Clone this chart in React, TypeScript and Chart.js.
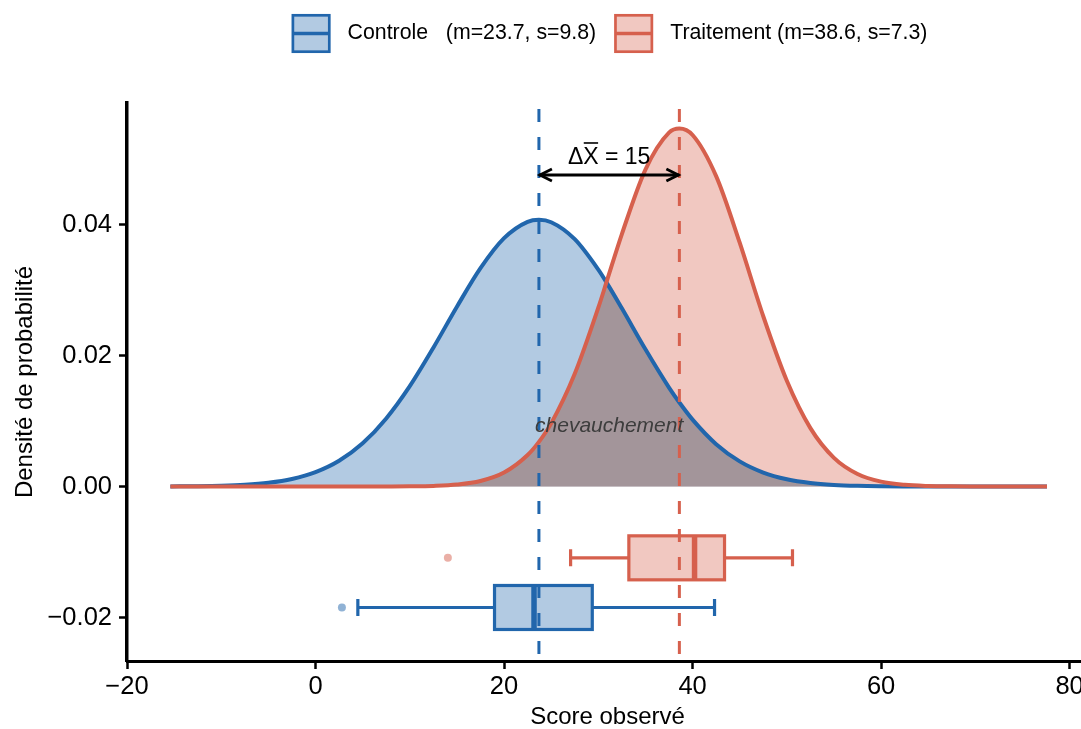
import React, { useEffect, useRef } from 'react';
import { Chart, registerables } from 'chart.js';

Chart.register(...registerables);

const FONT = '"Liberation Sans", Arial, Helvetica, sans-serif';

// ---- groups ----
const groupNames = ['Controle', 'Traitement'];
const groupMeans = [23.7, 38.6];
const groupSds = [9.8, 7.3];
const lineColors = ['#2166AC', '#D6604D'];
const fillColors = ['rgba(33,102,172,0.35)', 'rgba(214,96,77,0.35)'];
const outlierColors = ['rgba(33,102,172,0.5)', 'rgba(214,96,77,0.5)'];
const overlapFill = 'rgba(127,127,127,0.42)';

// ---- density curves ----
const scoreGrid = [
  -15.4, -12.5, -10, -7.5, -5, -2.5, 0, 2.5, 5, 7.5, 10, 12.5, 15, 17.5, 20, 22.5, 23.7, 25,
  27.5, 30, 30.85, 32.5, 35, 37.5, 38.6, 40, 42.5, 45, 47.5, 50, 52.5, 55, 57.5, 60, 62.5, 65,
  67.5, 70, 72.5, 75, 77.6,
];
const densityControle = [
  0.0000137, 0.0000443, 0.00011, 0.000256, 0.000559, 0.001141, 0.002187, 0.003922, 0.00659,
  0.01039, 0.01532, 0.02119, 0.02745, 0.03333, 0.03791, 0.04041, 0.04071, 0.04035, 0.03776,
  0.03311, 0.0312, 0.0272, 0.02094, 0.0151, 0.01282, 0.01021, 0.006465, 0.003836, 0.002132,
  0.001111, 0.000543, 0.000248, 0.000106, 0.0000427, 0.000016, 0.0000057, 0.0000018, 0.0000005,
  0.0000001, 0, 0,
];
const densityTraitement = [
  0, 0, 0, 0, 0, 0, 0, 0.0000003, 0.0000014, 0.0000063, 0.0000254, 0.0000915, 0.000294, 0.00084,
  0.002127, 0.004803, 0.00681, 0.009636, 0.0172, 0.0273, 0.03111, 0.03854, 0.04839, 0.05403,
  0.05465, 0.05366, 0.04738, 0.03722, 0.02599, 0.01614, 0.008919, 0.004381, 0.001914, 0.000744,
  0.000257, 0.000079, 0.0000216, 0.0000053, 0.0000012, 0.0000002, 0,
];

// ---- boxplots ----
const boxY = [-0.01847, -0.01089];
const whiskerLow = [4.49, 27.06];
const quartile1 = [18.99, 33.24];
const medians = [23.18, 40.21];
const quartile3 = [29.36, 43.39];
const whiskerHigh = [42.33, 50.6];
const outlierScores = [2.8, 14.04];

// ---- annotations ----
const meanDiff = 15;
const arrowY = 0.04756;
const overlapLabel = 'chevauchement';
const overlapLabelY = 0.0092;

const xTitle = 'Score observé';
const yTitle = 'Densité de probabilité';

const fmtNum = (v: number, d: number) => {
  const s = Math.abs(v).toFixed(d);
  return v < -1e-12 ? '\u2212' + s : s;
};

const annotPlugin = {
  id: 'annot',
  afterDatasetsDraw(chart: any) {
    const { ctx, chartArea, scales } = chart;
    const x = scales.x;
    const y = scales.y;
    const px = (v: number) => x.getPixelForValue(v);
    ctx.save();
    // boxplots
    const half = 22;
    const cap = 8.5;
    for (let i = 0; i < groupNames.length; i++) {
      const yc = y.getPixelForValue(boxY[i]);
      ctx.strokeStyle = lineColors[i];
      ctx.lineWidth = 3.2;
      ctx.lineCap = 'butt';
      ctx.beginPath();
      ctx.moveTo(px(whiskerLow[i]), yc);
      ctx.lineTo(px(quartile1[i]), yc);
      ctx.moveTo(px(quartile3[i]), yc);
      ctx.lineTo(px(whiskerHigh[i]), yc);
      ctx.moveTo(px(whiskerLow[i]), yc - cap);
      ctx.lineTo(px(whiskerLow[i]), yc + cap);
      ctx.moveTo(px(whiskerHigh[i]), yc - cap);
      ctx.lineTo(px(whiskerHigh[i]), yc + cap);
      ctx.stroke();
      const bx = px(quartile1[i]);
      const bw = px(quartile3[i]) - bx;
      ctx.fillStyle = fillColors[i];
      ctx.fillRect(bx, yc - half, bw, half * 2);
      ctx.strokeRect(bx, yc - half, bw, half * 2);
      ctx.lineWidth = 5.5;
      ctx.beginPath();
      ctx.moveTo(px(medians[i]), yc - half);
      ctx.lineTo(px(medians[i]), yc + half);
      ctx.stroke();
    }
    // mean lines
    ctx.lineWidth = 3;
    ctx.setLineDash([13, 15]);
    ctx.lineDashOffset = 22;
    for (let i = 0; i < groupMeans.length; i++) {
      ctx.strokeStyle = lineColors[i];
      ctx.beginPath();
      ctx.moveTo(px(groupMeans[i]), chartArea.top);
      ctx.lineTo(px(groupMeans[i]), chartArea.bottom);
      ctx.stroke();
    }
    ctx.setLineDash([]);
    // arrow
    const ay = y.getPixelForValue(arrowY);
    const x0 = px(groupMeans[0]);
    const x1 = px(groupMeans[1]);
    ctx.strokeStyle = '#000';
    ctx.lineWidth = 2.8;
    ctx.lineJoin = 'miter';
    ctx.beginPath();
    ctx.moveTo(x0, ay);
    ctx.lineTo(x1, ay);
    ctx.stroke();
    ctx.beginPath();
    ctx.moveTo(x0 + 13, ay - 6);
    ctx.lineTo(x0 + 1, ay);
    ctx.lineTo(x0 + 13, ay + 6);
    ctx.moveTo(x1 - 13, ay - 6);
    ctx.lineTo(x1 - 1, ay);
    ctx.lineTo(x1 - 13, ay + 6);
    ctx.stroke();
    // delta label
    ctx.font = `23px ${FONT}`;
    ctx.fillStyle = '#000';
    ctx.textBaseline = 'alphabetic';
    ctx.textAlign = 'left';
    const pD = '\u0394';
    const pX = 'X';
    const pR = ' = ' + meanDiff;
    const wD = ctx.measureText(pD).width;
    const wX = ctx.measureText(pX).width;
    const wR = ctx.measureText(pR).width;
    const cx = (x0 + x1) / 2;
    const sx = cx - (wD + wX + wR) / 2;
    const by = ay - 11;
    ctx.fillText(pD, sx, by);
    ctx.fillText(pX, sx + wD, by);
    ctx.fillText(pR, sx + wD + wX, by);
    ctx.lineWidth = 1.6;
    ctx.beginPath();
    ctx.moveTo(sx + wD + 0.5, by - 21);
    ctx.lineTo(sx + wD + wX - 0.5, by - 21);
    ctx.stroke();
    // overlap label
    ctx.font = `italic 21px ${FONT}`;
    ctx.fillStyle = '#3d3d3d';
    ctx.textAlign = 'center';
    ctx.textBaseline = 'middle';
    ctx.fillText(overlapLabel, cx, y.getPixelForValue(overlapLabelY));
    ctx.restore();
  },
  afterDraw(chart: any) {
    const { ctx, chartArea } = chart;
    ctx.save();
    ctx.font = `21.3px ${FONT}`;
    const labels = groupNames.map(
      (n, i) => `${n.padEnd(10, ' ')} (m=${groupMeans[i]}, s=${groupSds[i]})`
    );
    const key = 39;
    const gapKT = 17;
    const gapItems = 18;
    const widths = labels.map((l) => ctx.measureText(l).width);
    const total =
      widths.reduce((a, w) => a + key + gapKT + w, 0) + gapItems * (labels.length - 1);
    let lx = 609.5 - total / 2;
    const ty = 14;
    for (let i = 0; i < labels.length; i++) {
      ctx.fillStyle = fillColors[i];
      ctx.fillRect(lx + 1, ty + 1, key - 2, key - 2);
      ctx.strokeStyle = lineColors[i];
      ctx.lineWidth = 2.7;
      ctx.strokeRect(lx + 1.3, ty + 1.3, key - 2.6, key - 2.6);
      ctx.lineWidth = 3.3;
      ctx.beginPath();
      ctx.moveTo(lx + 1, ty + key / 2);
      ctx.lineTo(lx + key - 1, ty + key / 2);
      ctx.stroke();
      ctx.fillStyle = '#000';
      ctx.textAlign = 'left';
      ctx.textBaseline = 'middle';
      ctx.fillText(labels[i], lx + key + gapKT, ty + key / 2);
      lx += key + gapKT + widths[i] + gapItems;
    }
    ctx.restore();
  },
};

export default function App() {
  const ref = useRef<HTMLCanvasElement>(null);
  useEffect(() => {
    document.body.style.margin = '0';
    const overlap = densityControle.map((v, i) => Math.min(v, densityTraitement[i]));
    const pts = (arr: number[]) => scoreGrid.map((s, i) => ({ x: s, y: arr[i] }));
    const chart = new Chart(ref.current as HTMLCanvasElement, {
      type: 'line',
      data: {
        datasets: [
          {
            label: 'overlap',
            data: pts(overlap),
            order: 0,
            borderWidth: 0,
            borderColor: 'rgba(0,0,0,0)',
            backgroundColor: overlapFill,
            fill: 'origin',
            cubicInterpolationMode: 'monotone',
            pointRadius: 0,
          },
          {
            label: groupNames[1],
            data: pts(densityTraitement),
            order: 1,
            borderWidth: 4,
            borderColor: lineColors[1],
            backgroundColor: fillColors[1],
            fill: 'origin',
            cubicInterpolationMode: 'monotone',
            pointRadius: 0,
          },
          {
            label: groupNames[0],
            data: pts(densityControle),
            order: 2,
            borderWidth: 4,
            borderColor: lineColors[0],
            backgroundColor: fillColors[0],
            fill: 'origin',
            cubicInterpolationMode: 'monotone',
            pointRadius: 0,
          },
          ...groupNames.map((n, i) => ({
            label: n + ' outlier',
            data: [{ x: outlierScores[i], y: boxY[i] }],
            order: 3,
            showLine: false,
            fill: false,
            pointRadius: 4,
            pointBorderWidth: 0,
            pointBackgroundColor: outlierColors[i],
            borderColor: 'rgba(0,0,0,0)',
          })),
        ] as any,
      },
      options: {
        animation: false,
        responsive: false,
        events: [],
        layout: { padding: { top: 103, left: 0, right: 0, bottom: 0 } },
        plugins: {
          legend: { display: false },
          tooltip: { enabled: false },
          filler: { drawTime: 'beforeDatasetsDraw' },
        } as any,
        scales: {
          x: {
            type: 'linear',
            min: -20,
            max: 81.95,
            afterFit: (s: any) => {
              s.height = 68;
              s.paddingLeft = 0;
              s.paddingRight = 0;
            },
            ticks: {
              stepSize: 20,
              includeBounds: false,
              color: '#000',
              padding: 5,
              font: { family: FONT, size: 25.5, lineHeight: 1 },
              callback: (v: any) => fmtNum(Number(v), 0),
            },
            grid: {
              drawOnChartArea: false,
              drawTicks: true,
              tickLength: 8,
              tickWidth: 2.5,
              tickColor: '#000',
            },
            border: { display: true, color: '#000', width: 3 },
            title: {
              display: true,
              text: xTitle,
              color: '#000',
              font: { family: FONT, size: 24, lineHeight: 1 },
              padding: { top: 0, bottom: 0 },
            },
          },
          y: {
            type: 'linear',
            min: -0.02664,
            max: 0.05855,
            afterFit: (s: any) => {
              s.width = 127;
              s.paddingTop = 0;
              s.paddingBottom = 0;
            },
            ticks: {
              stepSize: 0.02,
              includeBounds: false,
              color: '#000',
              padding: 7,
              font: { family: FONT, size: 25.5, lineHeight: 1 },
              callback: (v: any) => fmtNum(Number(v), 2),
            },
            grid: {
              drawOnChartArea: false,
              drawTicks: true,
              tickLength: 8,
              tickWidth: 2.5,
              tickColor: '#000',
            },
            border: { display: true, color: '#000', width: 3.5 },
            title: {
              display: true,
              text: yTitle,
              color: '#000',
              font: { family: FONT, size: 24, lineHeight: 1 },
              padding: { top: 13, bottom: 0 },
            },
          },
        } as any,
      },
      plugins: [annotPlugin],
    });
    return () => chart.destroy();
  }, []);
  return (
    <div style={{ width: 1081, height: 729, overflow: 'hidden', background: '#fff' }}>
      <canvas ref={ref} width={1092} height={729} style={{ display: 'block' }} />
    </div>
  );
}
